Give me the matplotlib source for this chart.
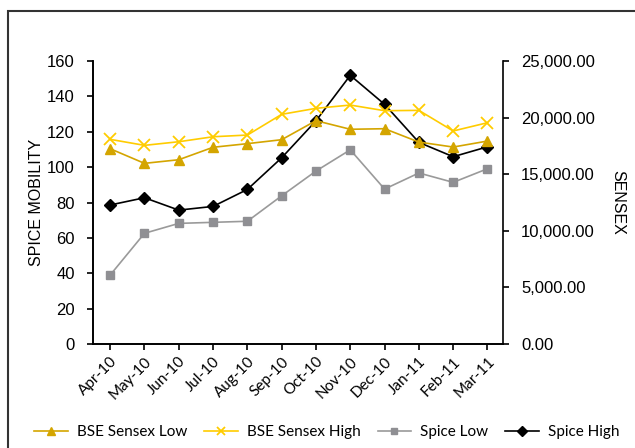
import matplotlib.pyplot as plt
from matplotlib.patches import Rectangle
from matplotlib.ticker import FuncFormatter

plt.rcParams['font.family'] = ['Liberation Sans', 'DejaVu Sans']

months = ['Apr-10', 'May-10', 'Jun-10', 'Jul-10', 'Aug-10', 'Sep-10',
          'Oct-10', 'Nov-10', 'Dec-10', 'Jan-11', 'Feb-11', 'Mar-11']

# SENSEX (right axis)
sensex_low = [17250, 15960, 16280, 17380, 17700, 18050,
              19730, 18970, 19020, 17840, 17400, 17930]
sensex_high = [18080, 17550, 17870, 18310, 18460, 20290,
               20820, 21110, 20610, 20640, 18820, 19550]

# Spice Mobility (left axis)
spice_low = [39.0, 62.6, 68.2, 68.8, 69.4, 83.8,
             97.8, 109.8, 87.6, 96.7, 91.4, 99.1]
spice_high = [78.6, 82.7, 75.7, 77.8, 87.4, 105.3,
              126.2, 151.9, 135.5, 114.0, 105.9, 111.5]

gill = 'Lato'

fig = plt.figure(figsize=(6.35, 4.48), dpi=100)
ax = fig.add_axes([0.1465, 0.2321, 0.6455, 0.6317])
ax2 = ax.twinx()

x = range(len(months))

h3, = ax.plot(x, spice_low, color='#9a9a9a', marker='s', ms=6,
              mfc='#8f8f93', mec='#8f8f93', lw=1.2, label='Spice Low')
h4, = ax.plot(x, spice_high, color='black', marker='D', ms=6.5,
              lw=1.2, label='Spice High')
h1, = ax2.plot(x, sensex_low, color='#d4a500', marker='^', ms=7,
               lw=1.2, label='BSE Sensex Low')
h2, = ax2.plot(x, sensex_high, color='#ffcc00', marker='x', ms=8,
               mew=1.3, lw=1.2, label='BSE Sensex High')

ax.set_xlim(-0.5, 11.45)
ax.set_ylim(0, 160)
ax.set_yticks(range(0, 161, 20))
ax2.set_ylim(0, 25000)
ax2.set_yticks(range(0, 25001, 5000))
ax2.yaxis.set_major_formatter(FuncFormatter(lambda v, p: f'{v:,.2f}'))

ax.set_xticks(list(x))
ax.set_xticklabels(months, rotation=45, ha='right', rotation_mode='anchor',
                   family=gill, fontsize=11)

for a in (ax, ax2):
    a.spines['top'].set_visible(False)
    for s in a.spines.values():
        s.set_linewidth(1.2)
    a.tick_params(direction='out', length=4, width=1.2)
    a.tick_params(axis='y', labelsize=12, pad=9)

ax.spines['right'].set_visible(False)

ax.set_ylabel('SPICE MOBILITY', fontsize=11.5, labelpad=2)
ax2.set_ylabel('SENSEX', fontsize=11.5, rotation=-90, labelpad=22)

fig.legend(handles=[h1, h2, h3, h4], loc='center', ncol=4,
           bbox_to_anchor=(0.515, 0.036), frameon=False,
           prop={'family': gill, 'size': 11}, handlelength=2.2,
           columnspacing=1.1, handletextpad=0.6, markerscale=0.75)

fig.patches.append(Rectangle((8 / 635, -0.1), 1.2, 1 - 11 / 448 + 0.1,
                             transform=fig.transFigure, fill=False,
                             edgecolor='#333333', lw=1.5))

fig.savefig('out.png', dpi=100)
